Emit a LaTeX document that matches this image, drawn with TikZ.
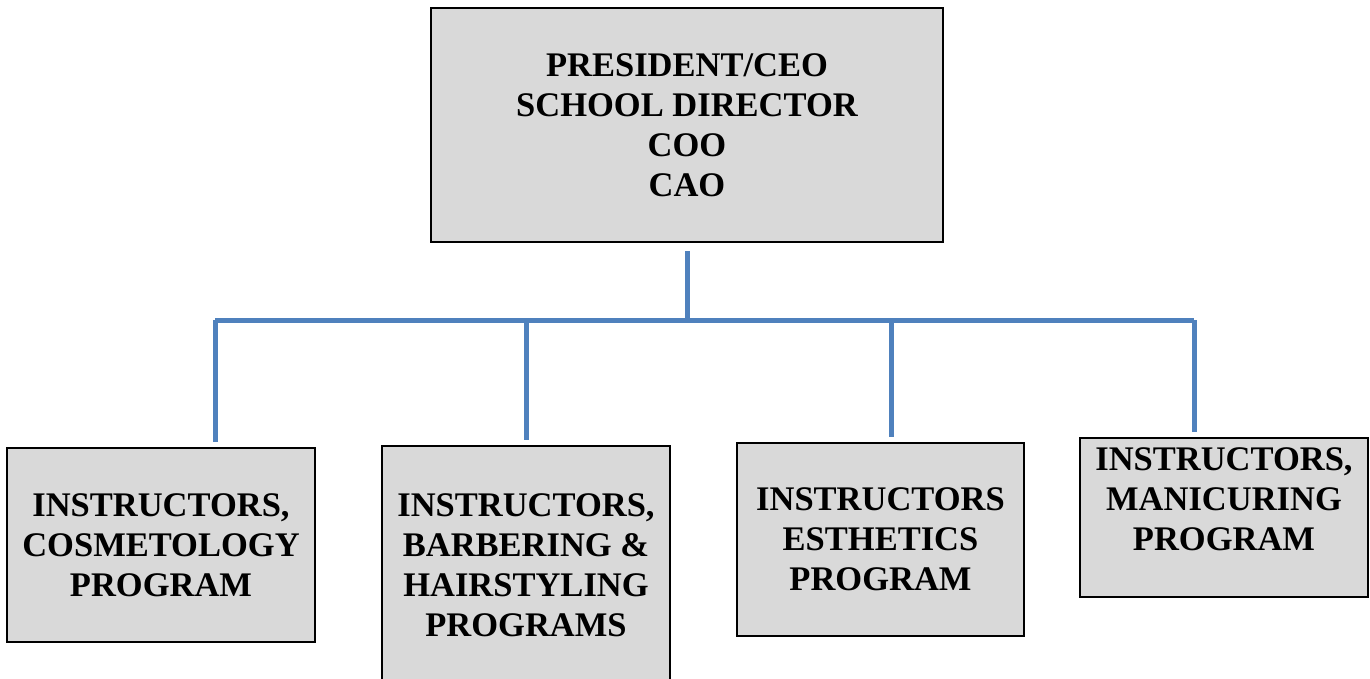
\documentclass[tikz,border=0pt]{standalone}
\usepackage{fontspec}
\setmainfont{Liberation Serif}
\usetikzlibrary{positioning}

\definecolor{azul}{HTML}{4F81BD}
\definecolor{gris}{HTML}{D9D9D9}

\tikzset{
	caja/.style={draw=black, line width=2pt, fill=gris, align=center,
		font=\fontsize{34.5}{40}\selectfont\bfseries, inner sep=0pt},
	linea/.style={draw=azul, line width=5pt}
}

\begin{document}
\begin{tikzpicture}[x=1pt, y=-1pt]
	\useasboundingbox (0,0) rectangle (1370,679);

% caja superior
	\node[caja, minimum width=512pt, minimum height=234pt] (jefe) at (687,125)
		{PRESIDENT/CEO\\SCHOOL DIRECTOR\\COO\\CAO};

% cajas de programas
	\node[caja, minimum width=308pt, minimum height=194pt] (c1) at (161,545)
		{INSTRUCTORS,\\COSMETOLOGY\\PROGRAM};
	\node[caja, minimum width=288pt, minimum height=238pt] (c2) at (526,565)
		{INSTRUCTORS,\\BARBERING \&\\HAIRSTYLING\\PROGRAMS};
	\node[caja, minimum width=287pt, minimum height=193pt] (c3) at (880.5,539.5)
		{INSTRUCTORS\\ESTHETICS\\PROGRAM};
	\node[caja, minimum width=288pt, minimum height=159pt] (c4) at (1224,517.5)
		{INSTRUCTORS,\\MANICURING\\PROGRAM\\[-2.5pt]\mbox{}};

% lineas
	\foreach \i/\x in {1/215, 2/526, 3/891, 4/1194}
		\coordinate (b\i) at (\x,320);
	\draw[linea] (b1) -- (b4);
	\draw[linea, shorten <=8pt] (jefe.south) -- (jefe.south |- b1);
	\foreach \i in {1,...,4}
		\draw[linea, shorten >=5pt] (b\i) -- (b\i |- c\i.north);
\end{tikzpicture}
\end{document}
